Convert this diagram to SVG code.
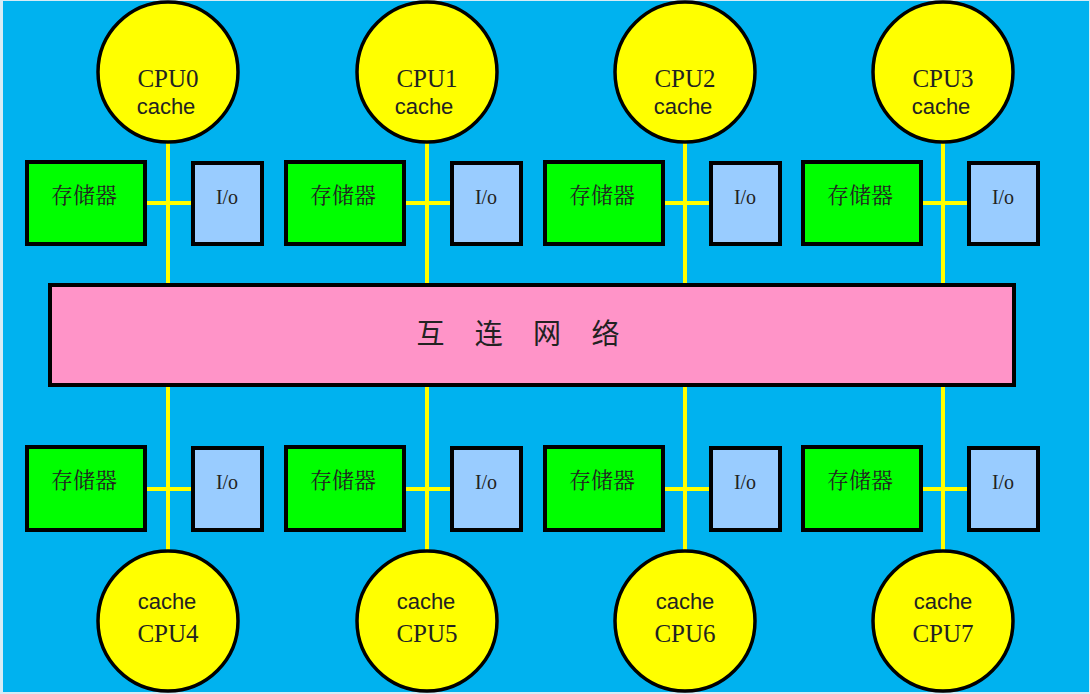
<svg xmlns="http://www.w3.org/2000/svg" width="1090" height="694" viewBox="0 0 1090 694">
<defs>
<style>
.bg{fill:#00B2EF}
.cpu{fill:#FFFF00;stroke:#000;stroke-width:3.5}
.mem{fill:#00FF00;stroke:#000;stroke-width:4}
.io{fill:#99CCFF;stroke:#000;stroke-width:4}
.net{fill:#FF94C8;stroke:#000;stroke-width:4}
.bus{stroke:#FFFF00;stroke-width:4;fill:none}
.ser{font-family:"Liberation Serif",serif;fill:#222;text-anchor:middle}
.san{font-family:"Liberation Sans",sans-serif;fill:#222;text-anchor:middle}
.cjk{font-family:"Noto Serif CJK SC","Noto Sans CJK SC",serif;fill:#222;text-anchor:middle}
.cjks{font-family:"Noto Sans CJK SC",sans-serif;fill:#222;text-anchor:middle}
</style>
</defs>
<rect x="0" y="0" width="1090" height="694" fill="#D6ECF6"/>
<rect class="bg" x="3" y="1" width="1086" height="691"/>

<g id="connectors">
<path class="bus" d="M168 142V284M427 142V284M685 142V284M943 142V284"/>
<path class="bus" d="M168 386V550M427 386V550M685 386V550M943 386V550"/>
<path class="bus" d="M145 203H191M405 203H450M663 203H709M922 203H967"/>
<path class="bus" d="M145 489H191M405 489H450M663 489H709M922 489H967"/>
</g>

<g id="net">
<rect class="net" x="50" y="285" width="964" height="100"/>
<text class="cjks" x="524" y="344" font-size="28" letter-spacing="12" xml:space="preserve">互 连 网 络</text>
</g>

<g id="cpu0"><circle class="cpu" cx="168" cy="72" r="70"/><text class="ser" x="168" y="87" font-size="25">CPU0</text><text class="san" x="166" y="114" font-size="22">cache</text></g>
<g id="cpu1"><circle class="cpu" cx="427" cy="72" r="70"/><text class="ser" x="427" y="87" font-size="25">CPU1</text><text class="san" x="424" y="114" font-size="22">cache</text></g>
<g id="cpu2"><circle class="cpu" cx="685" cy="72" r="70"/><text class="ser" x="685" y="87" font-size="25">CPU2</text><text class="san" x="683" y="114" font-size="22">cache</text></g>
<g id="cpu3"><circle class="cpu" cx="943" cy="72" r="70"/><text class="ser" x="943" y="87" font-size="25">CPU3</text><text class="san" x="941" y="114" font-size="22">cache</text></g>

<g id="cpu4"><circle class="cpu" cx="168" cy="621" r="70"/><text class="san" x="167" y="609" font-size="22">cache</text><text class="ser" x="168" y="642" font-size="25">CPU4</text></g>
<g id="cpu5"><circle class="cpu" cx="427" cy="621" r="70"/><text class="san" x="426" y="609" font-size="22">cache</text><text class="ser" x="427" y="642" font-size="25">CPU5</text></g>
<g id="cpu6"><circle class="cpu" cx="685" cy="621" r="70"/><text class="san" x="685" y="609" font-size="22">cache</text><text class="ser" x="685" y="642" font-size="25">CPU6</text></g>
<g id="cpu7"><circle class="cpu" cx="943" cy="621" r="70"/><text class="san" x="943" y="609" font-size="22">cache</text><text class="ser" x="943" y="642" font-size="25">CPU7</text></g>

<g id="mem0"><rect class="mem" x="27" y="162" width="118" height="82"/><text class="cjk" x="84" y="203" font-size="22">存储器</text></g>
<g id="io0"><rect class="io" x="193" y="163" width="69" height="81"/><text class="ser" x="227" y="204" font-size="20">I/o</text></g>
<g id="mem1"><rect class="mem" x="286" y="162" width="118" height="82"/><text class="cjk" x="343" y="203" font-size="22">存储器</text></g>
<g id="io1"><rect class="io" x="452" y="163" width="69" height="81"/><text class="ser" x="486" y="204" font-size="20">I/o</text></g>
<g id="mem2"><rect class="mem" x="545" y="162" width="118" height="82"/><text class="cjk" x="602" y="203" font-size="22">存储器</text></g>
<g id="io2"><rect class="io" x="711" y="163" width="69" height="81"/><text class="ser" x="745" y="204" font-size="20">I/o</text></g>
<g id="mem3"><rect class="mem" x="803" y="162" width="118" height="82"/><text class="cjk" x="860" y="203" font-size="22">存储器</text></g>
<g id="io3"><rect class="io" x="969" y="163" width="69" height="81"/><text class="ser" x="1003" y="204" font-size="20">I/o</text></g>

<g id="mem4"><rect class="mem" x="27" y="447" width="118" height="83"/><text class="cjk" x="84" y="488" font-size="22">存储器</text></g>
<g id="io4"><rect class="io" x="193" y="448" width="69" height="82"/><text class="ser" x="227" y="489" font-size="20">I/o</text></g>
<g id="mem5"><rect class="mem" x="286" y="447" width="118" height="83"/><text class="cjk" x="343" y="488" font-size="22">存储器</text></g>
<g id="io5"><rect class="io" x="452" y="448" width="69" height="82"/><text class="ser" x="486" y="489" font-size="20">I/o</text></g>
<g id="mem6"><rect class="mem" x="545" y="447" width="118" height="83"/><text class="cjk" x="602" y="488" font-size="22">存储器</text></g>
<g id="io6"><rect class="io" x="711" y="448" width="69" height="82"/><text class="ser" x="745" y="489" font-size="20">I/o</text></g>
<g id="mem7"><rect class="mem" x="803" y="447" width="118" height="83"/><text class="cjk" x="860" y="488" font-size="22">存储器</text></g>
<g id="io7"><rect class="io" x="969" y="448" width="69" height="82"/><text class="ser" x="1003" y="489" font-size="20">I/o</text></g>
</svg>
